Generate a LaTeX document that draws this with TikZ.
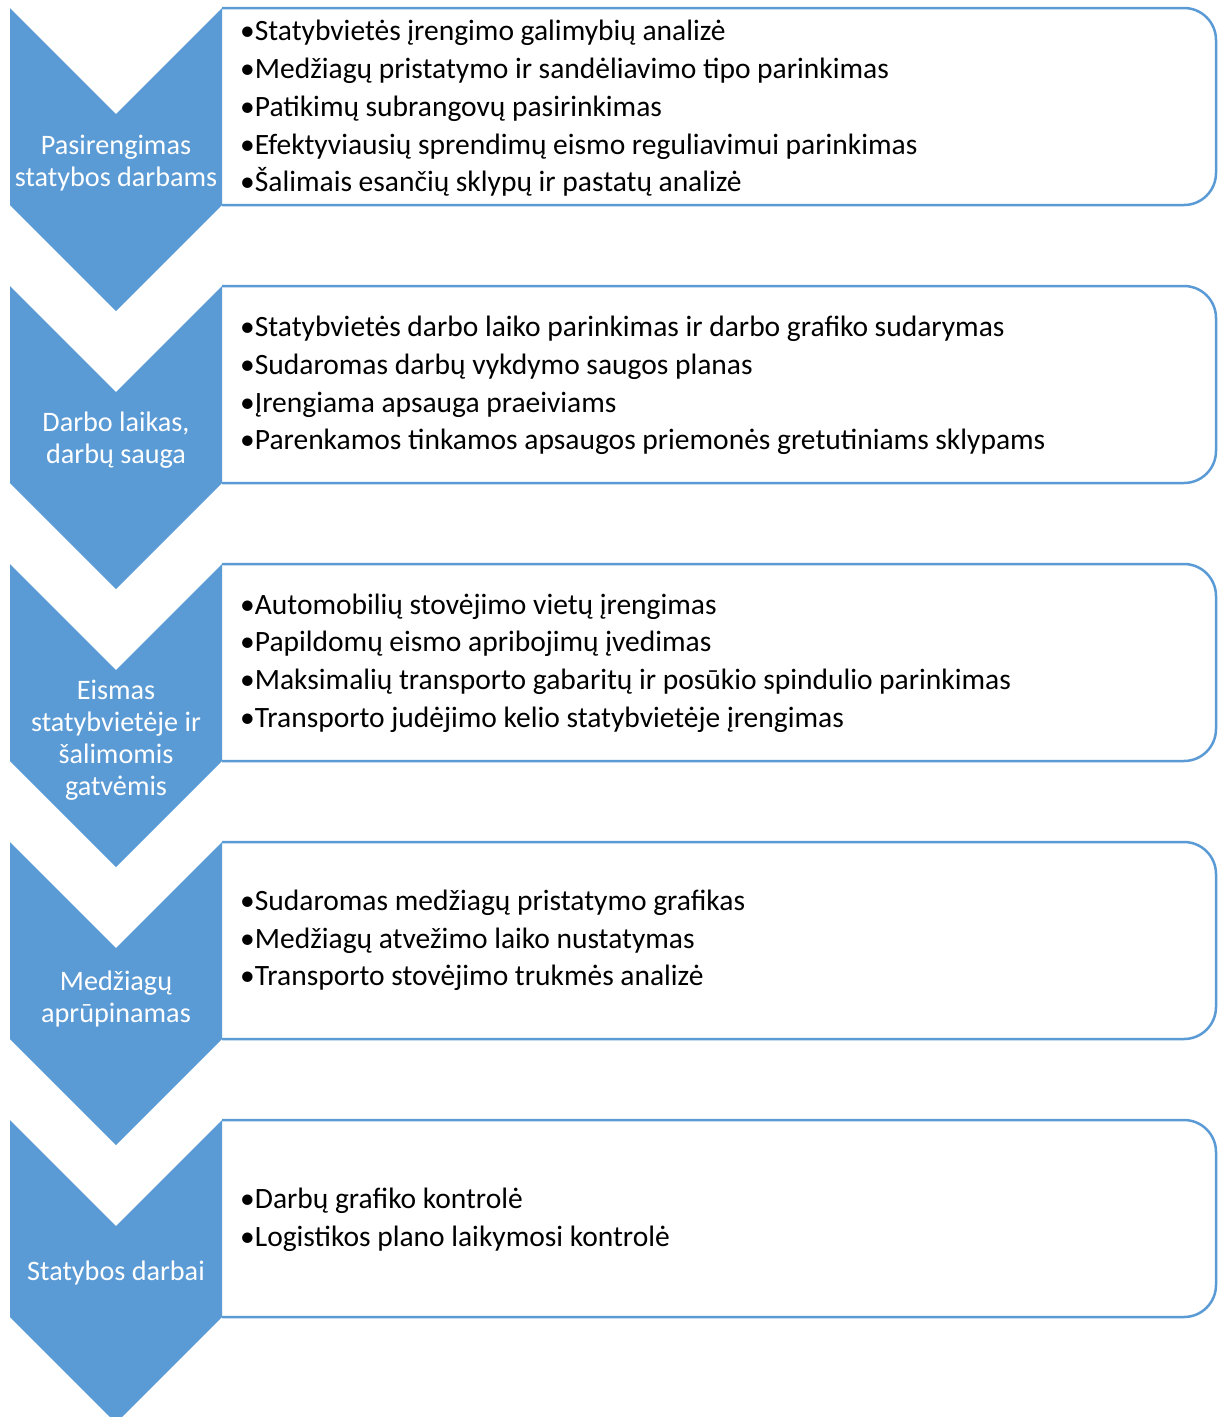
\documentclass[tikz,border=0pt]{standalone}
\usepackage{fontspec}
\setmainfont{Carlito}
\definecolor{accent}{HTML}{5B9BD5}
\tikzset{
  chevron/.style={fill=accent, draw=none},
  panel/.style={draw=accent, line width=2.5pt, fill=white, rounded corners=32pt},
  steplabel/.style={text=white, font=\fontsize{28.2}{32}\selectfont, align=center, inner sep=0pt},
  itemlist/.style={text=black, font=\fontsize{29.5}{37.7}\selectfont, align=left, anchor=west, inner sep=0pt},
}
\begin{document}
\begin{tikzpicture}[x=1pt,y=-1pt]
\useasboundingbox (0,0) rectangle (1218,1417);
\clip (0,0) rectangle (1218,1417);
% one panel and one chevron per stage, top edges 278 apart
\foreach \t in {8,286,564,842,1120} {
  \draw[panel] (222,\t) -- (1216,\t) -- (1216,\t+197) -- (222,\t+197);
  \fill[chevron] (10,\t) -- (116,\t+106) -- (222,\t) -- (222,\t+197)
        -- (116,\t+303) -- (10,\t+197) -- cycle;
}
% stage titles
\node[steplabel] (s1) at (116,163) {Pasirengimas\\statybos darbams};
\node[steplabel] (s2) at (116,440) {Darbo laikas,\\darbų sauga};
\node[steplabel] (s3) at (116,740) {Eismas\\statybvietėje ir\\šalimomis\\gatvėmis};
\node[steplabel] (s4) at (116,999) {Medžiagų\\aprūpinamas};
\node[steplabel] (s5) at (116,1273) {Statybos darbai};
% task lists
\node[itemlist] (l1) at (240,108.5) {•Statybvietės įrengimo galimybių analizė\\
  •Medžiagų pristatymo ir sandėliavimo tipo parinkimas\\
  •Patikimų subrangovų pasirinkimas\\
  •Efektyviausių sprendimų eismo reguliavimui parinkimas\\
  •Šalimais esančių sklypų ir pastatų analizė};
\node[itemlist] (l2) at (240,385.5) {•Statybvietės darbo laiko parinkimas ir darbo grafiko sudarymas\\
  •Sudaromas darbų vykdymo saugos planas\\
  •Įrengiama apsauga praeiviams\\
  •Parenkamos tinkamos apsaugos priemonės gretutiniams sklypams};
\node[itemlist] (l3) at (240,663) {•Automobilių stovėjimo vietų įrengimas\\
  •Papildomų eismo apribojimų įvedimas\\
  •Maksimalių transporto gabaritų ir posūkio spindulio parinkimas\\
  •Transporto judėjimo kelio statybvietėje įrengimas};
\node[itemlist] (l4) at (240,940.5) {•Sudaromas medžiagų pristatymo grafikas\\
  •Medžiagų atvežimo laiko nustatymas\\
  •Transporto stovėjimo trukmės analizė};
\node[itemlist] (l5) at (240,1220) {•Darbų grafiko kontrolė\\
  •Logistikos plano laikymosi kontrolė};
\end{tikzpicture}
\end{document}
